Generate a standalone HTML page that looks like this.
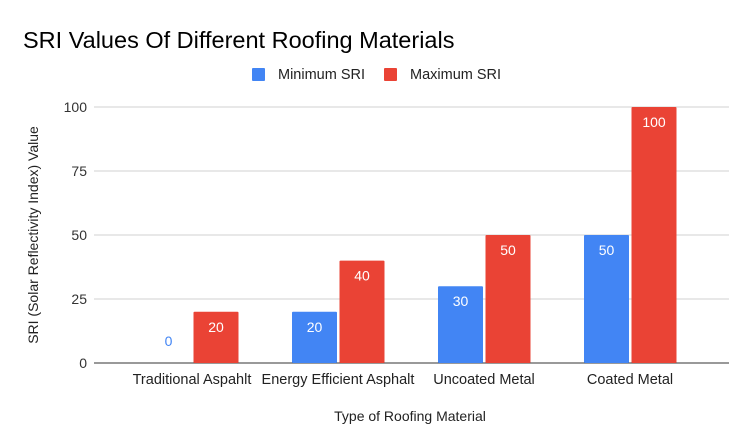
<!DOCTYPE html>
<html><head><meta charset="utf-8"><style>
body{margin:0;background:#fff;}
svg{display:block;font-family:"Liberation Sans",Arial,sans-serif;}
</style></head><body>
<svg id="chart" width="750" height="448">
<text x="23" y="48" font-size="23.5" fill="#000">SRI Values Of Different Roofing Materials</text>
<g>
<rect x="252" y="68" width="13" height="13" rx="1" fill="#4285f4"/>
<text x="278" y="79" font-size="14.5" fill="#222">Minimum SRI</text>
<rect x="384" y="68" width="13" height="13" rx="1" fill="#ea4335"/>
<text x="410" y="79" font-size="14.5" fill="#222">Maximum SRI</text>
</g>
<g id="grid"></g>
<g id="bars"></g>
<g id="xlabels"></g>
<text x="410" y="421" font-size="14" text-anchor="middle" fill="#222">Type of Roofing Material</text>
<text transform="translate(38,235) rotate(-90)" font-size="14" text-anchor="middle" fill="#222">SRI (Solar Reflectivity Index) Value</text>
</svg>
<script>
const categories=["Traditional Aspahlt","Energy Efficient Asphalt","Uncoated Metal","Coated Metal"];
const minSRI=[0,20,30,50];
const maxSRI=[20,40,50,100];
const yTicks=[0,25,50,75,100];
const NS="http://www.w3.org/2000/svg";
function y(v){return 363-v*2.56;}
function xc(i){return 192+i*146;}
function mk(tag,attrs,parent){const e=document.createElementNS(NS,tag);for(const k in attrs)e.setAttribute(k,attrs[k]);parent.appendChild(e);return e;}
const grid=document.getElementById('grid'),bars=document.getElementById('bars'),xl=document.getElementById('xlabels');
yTicks.forEach(t=>{
 const l=mk('line',{x1:94,x2:729,y1:y(t),y2:y(t),stroke:t===0?'#333':'#d0d0d0','stroke-width':1},grid);
 
 
 const tx=mk('text',{x:87,y:y(t)+5,'font-size':14,'text-anchor':'end',fill:'#333'},grid);
 tx.textContent=t;
 
 
});
const W=45;
categories.forEach((c,i)=>{
 [[minSRI[i],'#4285f4',xc(i)-1-W,'min'],[maxSRI[i],'#ea4335',xc(i)+1.5,'max']].forEach(([v,col,x,s])=>{
  const h=363-y(v);
  if(h>0){
   const r=mk('rect',{x:x,y:y(v),width:W,height:h,fill:col,rx:1},bars);
   
   
  }
  const t=mk('text',{x:x+W/2,y:h>0?y(v)+20:y(v)-17,'font-size':14,'text-anchor':'middle',fill:h>0?'#fff':col},bars);
  t.textContent=v;
  
  
 });
 const t=mk('text',{x:xc(i),y:384,'font-size':14.5,'text-anchor':'middle',fill:'#222'},xl);
 t.textContent=c;
 
 
});
</script>
</body></html>
